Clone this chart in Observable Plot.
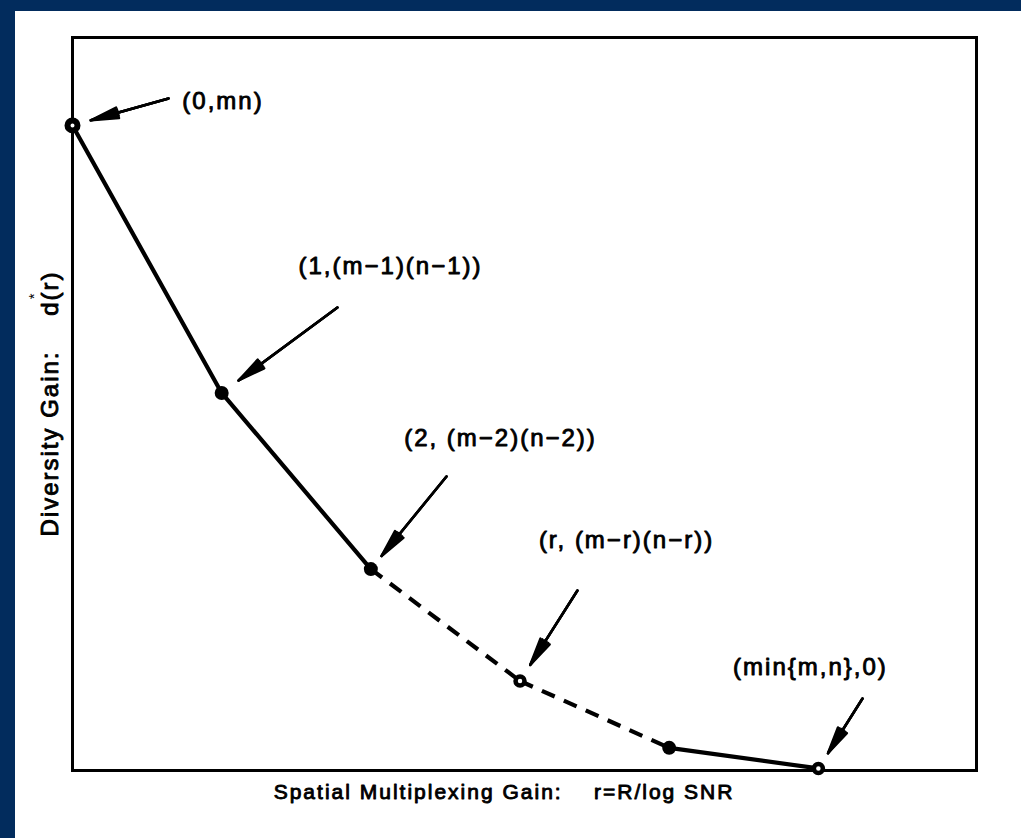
<!DOCTYPE html>
<html>
<head>
<meta charset="utf-8">
<script src="https://cdn.jsdelivr.net/npm/d3@7"></script>
<script src="https://cdn.jsdelivr.net/npm/@observablehq/plot@0.6"></script>
<style>
  html, body { margin: 0; padding: 0; background: #fff; }
  #page { position: relative; width: 1021px; height: 838px; overflow: hidden; background: #fff; }
  #page .edge-top { position: absolute; left: 0; top: 0; width: 1021px; height: 11px; background: #022c5d; }
  #page .edge-left { position: absolute; left: 0; top: 0; width: 15px; height: 838px; background: #022c5d; }
  #chart { position: absolute; left: 0; top: 0; }
  #chart svg text { letter-spacing: 2px; }
</style>
</head>
<body>
<div id="page">
  <div class="edge-top"></div>
  <div class="edge-left"></div>
  <div id="chart"></div>
</div>
<script>
// Diversity–multiplexing tradeoff: corner points of the optimal curve d*(r)
const r = [0, 1, 2, 3, 4, 5];
const d = [25, 14.6, 7.75, 3.4, 0.8, 0];
const markerKind = ["ring", "filled", "filled", "open", "filled", "open"];
// style of the segment leaving each point
const segmentKind = ["solid", "solid", "dashed", "dashed", "solid"];

// annotations: text, the point each arrow targets, text centre, arrow tail
const pointLabels = ["(0,mn)", "(1,(m−1)(n−1))", "(2, (m−2)(n−2))", "(r, (m−r)(n−r))", "(min{m,n},0)"];
const labelPoint = [0, 1, 2, 3, 5];
const labelX = [1.009, 2.132, 2.869, 3.714, 4.947];
const labelY = [25.93, 19.51, 12.83, 8.86, 3.92];
const arrowX = [0.644, 1.776, 2.507, 3.385, 5.296];
const arrowY = [26.05, 17.92, 11.35, 6.92, 2.72];
const arrowInset = [19, 21, 17, 19, 18];

const xLabel = "Spatial Multiplexing Gain:\u00a0\u00a0\u00a0\u00a0r=R/log SNR";
const yLabel = "Diversity Gain:\u00a0\u00a0\u00a0\u00a0d(r)";

const points = r.map((v, i) => ({r: v, d: d[i], kind: markerKind[i]}));
const segments = segmentKind.map((kind, i) => ({
  x1: r[i], y1: d[i], x2: r[i + 1], y2: d[i + 1], kind
}));
const notes = pointLabels.map((text, i) => ({
  text,
  tx: labelX[i], ty: labelY[i],
  ax: arrowX[i], ay: arrowY[i],
  px: r[labelPoint[i]], py: d[labelPoint[i]],
  inset: arrowInset[i]
}));

const font = "'Liberation Sans', Arial, Helvetica, sans-serif";
const ink = {fill: "black", stroke: "black", strokeWidth: 0.9};

// arrows with a solid-looking narrow head: several nested heads fill the wedge
const arrowMarks = notes.flatMap(n => [22, 14, 6].map(angle => Plot.arrow([n], {
  x1: "ax", y1: "ay", x2: "px", y2: "py",
  insetEnd: n.inset, stroke: "black", strokeWidth: 2.5,
  headLength: 17, headAngle: angle
})));

const chart = Plot.plot({
  width: 1021,
  height: 838,
  marginLeft: 72,
  marginRight: 45,
  marginTop: 37,
  marginBottom: 68,
  style: {background: "transparent", fontFamily: font, color: "black"},
  x: {domain: [0, 6.06], axis: null},
  y: {domain: [-0.08, 28.42], axis: null},
  marks: [
    Plot.frame({stroke: "black", strokeWidth: 3}),
    Plot.link(segments.filter(s => s.kind === "solid"), {
      x1: "x1", y1: "y1", x2: "x2", y2: "y2",
      stroke: "black", strokeWidth: 4.2, strokeLinecap: "round"
    }),
    Plot.link(segments.filter(s => s.kind === "dashed"), {
      x1: "x1", y1: "y1", x2: "x2", y2: "y2",
      stroke: "black", strokeWidth: 4.2, strokeDasharray: "14,10"
    }),
    Plot.dot(points.filter(p => p.kind === "filled"), {
      x: "r", y: "d", r: 7, fill: "black", stroke: "none"
    }),
    Plot.dot(points.filter(p => p.kind === "ring"), {
      x: "r", y: "d", r: 5, fill: "white", stroke: "black", strokeWidth: 6
    }),
    Plot.dot(points.filter(p => p.kind === "open"), {
      x: "r", y: "d", r: 4.5, fill: "white", stroke: "black", strokeWidth: 4.5
    }),
    ...arrowMarks,
    Plot.text(notes, {x: "tx", y: "ty", text: "text", fontSize: 24, ...ink}),
    Plot.text([xLabel], {x: [2.893], y: [-0.935], text: d => d, fontSize: 21, ...ink}),
    Plot.text([yLabel], {x: [-0.147], y: [14.19], text: d => d, rotate: -90, fontSize: 24, ...ink}),
    Plot.text(["*"], {x: [-0.255], y: [18.4], text: d => d, rotate: -90, fontSize: 15, fill: "black"})
  ]
});

document.getElementById("chart").appendChild(chart);
</script>
</body>
</html>
